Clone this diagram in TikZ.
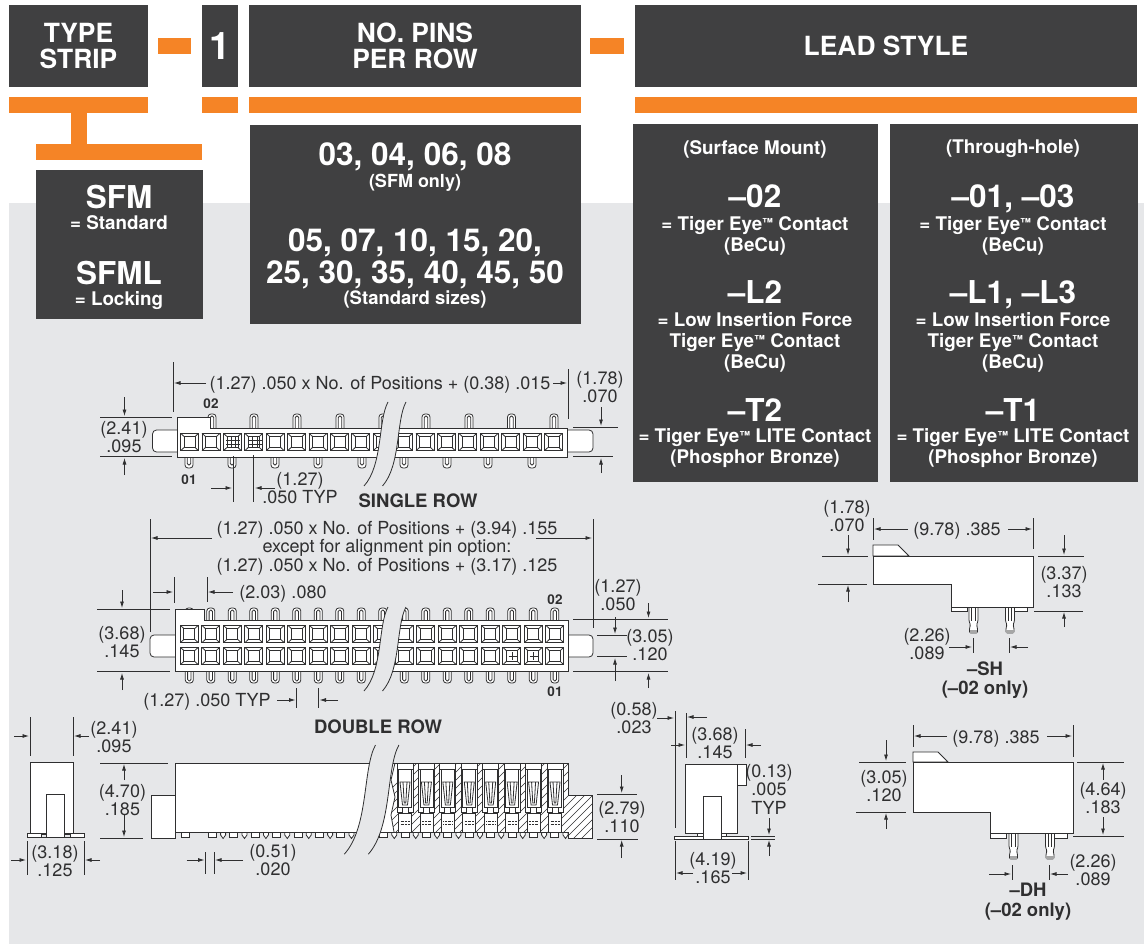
\documentclass[tikz,border=0pt]{standalone}
\usepackage{fontspec}
\setmainfont{TeX Gyre Heros}
\usetikzlibrary{arrows.meta}
\definecolor{boxgray}{HTML}{404041}
\definecolor{tigerorange}{HTML}{F58426}
\definecolor{pagegray}{HTML}{E6E7E9}
\definecolor{linegray}{HTML}{2F2F30}
% small raised trade mark
\newcommand{\tmark}{\raisebox{3.5pt}{\fontsize{11}{11}\selectfont ™}}
% square contact seen from above
\newcommand{\contactpad}[2]{
    \begin{scope}[shift={(#1,#2)}]
        \draw (-9,-8.7) rectangle (9,8.7);
        \draw (-5.5,-5.5) rectangle (5.5,5.5);
        \draw (-9,-8.7) -- (-5.5,-5.5) (9,-8.7) -- (5.5,-5.5) (-9,8.7) -- (-5.5,5.5) (9,8.7) -- (5.5,5.5);
    \end{scope}
}
% x, free end, base, inner free end
\newcommand{\slotpin}[4]{
    \draw[fill=white,rounded corners=3pt] (#1-4,#3) -- (#1-4,#2) -- (#1+4,#2) -- (#1+4,#3);
    \draw[rounded corners=1.5pt] (#1-1.7,#3) -- (#1-1.7,#4) -- (#1+1.7,#4) -- (#1+1.7,#3);
}
% the two curves where the part is cut short
\newcommand{\breakmark}[3]{
    \begin{scope}[shift={(#1,#2)},#3]
        \fill[pagegray] (0,0) .. controls (-10,18) and (-5,63) .. (-24,84) -- (-5.5,84) .. controls (13,63) and (8,18) .. (18,0) -- cycle;
        \draw (0,0) .. controls (-10,18) and (-5,63) .. (-24,84);
        \draw (18,0) .. controls (8,18) and (13,63) .. (-5.5,84);
    \end{scope}
}
% lead of the -SH and -DH parts
\newcommand{\leadpin}[2]{
    \begin{scope}[shift={(#1,#2)}]
        \draw[fill=white,rounded corners=1.2pt] (-4.5,0) -- (-4.5,14) -- (-3,18) -- (-4,21) -- (-4,26) -- (4,26) -- (4,21) -- (3,18) -- (4.5,14) -- (4.5,0);
        \fill[gray!70] (-3.6,23) rectangle (3.6,25.6);
        \draw (-1.8,0) -- (-1.8,14) (1.8,0) -- (1.8,14);
    \end{scope}
}
% contact cavity in the cut-away
\newcommand{\cavity}[1]{
    \begin{scope}[shift={(#1,0)}]
        \draw[fill=white] (-8,763) rectangle (8,812);
        \draw (-8,769) -- (8,769) (-6.5,769) -- (-6.5,807) -- (6.5,807) -- (6.5,769);
        \draw (-5,782) -- (5,782) -- (2.5,805) -- (-2.5,805) -- cycle (-2,782) -- (-.8,803) -- (.8,803) -- (2,782);
        \draw[fill=white] (-3,807) rectangle (3,813);
        \draw[fill=white] (-6.5,813) rectangle (6.5,832);
        \draw[densely dotted,line width=.4pt] (-4.5,821) -- (4.5,821) (-4.5,824) -- (4.5,824);
    \end{scope}
}
\begin{document}
\begin{tikzpicture}[
                        x=1pt,y=-1pt,
                        >={Latex[length=6.5pt,width=4pt]},
                        line width=.8pt,
                        draw=linegray,
                        darkbox/.style={fill=boxgray,inner sep=0pt,outer sep=0pt,text=white,align=center},
                        headtext/.style={font=\bfseries\fontsize{26.4}{27}\selectfont},
                        bigtext/.style={text=white,inner sep=0pt,align=center,font=\bfseries\fontsize{31.5}{32}\selectfont},
                        whitetext/.style={text=white,inner sep=0pt,align=center,font=\bfseries\fontsize{18.8}{21}\selectfont},
                        dimtext/.style={text=linegray,inner sep=0pt,align=center,font=\fontsize{18}{18.5}\selectfont},
                        boldtext/.style={text=linegray,inner sep=0pt,align=center,font=\bfseries\fontsize{18.5}{19.5}\selectfont},
                        pintext/.style={text=linegray,inner sep=0pt,font=\bfseries\fontsize{13.5}{13.5}\selectfont}
                    ]
                    \useasboundingbox (0,0) rectangle (1144,944);
                    \fill[pagegray] (9,203) rectangle (1144,944);

                    % Heading boxes
                    \node [darkbox,headtext,minimum width=139pt,minimum height=82pt] (typeStrip) at (78.5,46) {TYPE\\[-1pt]STRIP};
                    \node [darkbox,font=\bfseries\fontsize{38}{38}\selectfont,minimum width=36pt,minimum height=82pt] (stripOne) at (220,46) {1};
                    \node [darkbox,headtext,minimum width=332pt,minimum height=82pt] (noPins) at (415,46) {NO. PINS\\[-1pt]PER ROW};
                    \node [darkbox,headtext,minimum width=502pt,minimum height=82pt] (leadStyle) at (886,46) {LEAD STYLE};

                    % Orange bars
                    \fill[tigerorange] (158,38) rectangle (191,54);
                    \fill[tigerorange] (590,38) rectangle (624,54);
                    \fill[tigerorange] (9,97) rectangle (148,113);
                    \fill[tigerorange] (202,97) rectangle (238,113);
                    \fill[tigerorange] (249,97) rectangle (581,113);
                    \fill[tigerorange] (635,97) rectangle (1137,113);
                    \fill[tigerorange] (71,113) rectangle (87,144);
                    \fill[tigerorange] (36,144) rectangle (202,160);

                    % Option boxes
                    \fill[boxgray] (36,170) rectangle (203,319);
                    \fill[boxgray] (250,125) rectangle (581,324);
                    \fill[boxgray] (633,124) rectangle (878,482);
                    \fill[boxgray] (890,124) rectangle (1138,482);

                    \node [bigtext] (sfm) at (119,197) {SFM};
                    \node [whitetext] (sfmStandard) at (119,223) {= Standard};
                    \node [bigtext] (sfml) at (119,273) {SFML};
                    \node [whitetext] (sfmLocking) at (119,301) {= Locking};

                    \node [bigtext] (pinsShort) at (415,157) {03, 04, 06, 08};
                    \node [whitetext,font=\bfseries\fontsize{18}{18}\selectfont] (pinsShortNote) at (415,183) {(SFM only)};
                    \node [bigtext] (pinsLong) at (415,259) {05, 07, 10, 15, 20,\\25, 30, 35, 40, 45, 50};
                    \node [whitetext,font=\bfseries\fontsize{18.5}{21}\selectfont] (pinsLongNote) at (415,299) {(Standard sizes)};

                    \node [whitetext] (surfaceHead) at (755,149) {(Surface Mount)};
                    \node [bigtext] (leadTwo) at (755,196) {–02};
                    \node [whitetext] (leadTwoNote) at (755,235.5) {= Tiger Eye\tmark{} Contact\\(BeCu)};
                    \node [bigtext] (leadLTwo) at (755,292) {–L2};
                    \node [whitetext] (leadLTwoNote) at (755,342) {= Low Insertion Force\\Tiger Eye\tmark{} Contact\\(BeCu)};
                    \node [bigtext] (leadTTwo) at (755,410) {–T2};
                    \node [whitetext] (leadTTwoNote) at (755,448.5) {= Tiger Eye\tmark{} LITE Contact\\(Phosphor Bronze)};

                    \node [whitetext] (throughHead) at (1013,149) {(Through-hole)};
                    \node [bigtext] (leadOne) at (1013,199) {–01, –03};
                    \node [whitetext] (leadOneNote) at (1013,235.5) {= Tiger Eye\tmark{} Contact\\(BeCu)};
                    \node [bigtext] (leadLOne) at (1013,295) {–L1, –L3};
                    \node [whitetext] (leadLOneNote) at (1013,342) {= Low Insertion Force\\Tiger Eye\tmark{} Contact\\(BeCu)};
                    \node [bigtext] (leadTOne) at (1013,410) {–T1};
                    \node [whitetext] (leadTOneNote) at (1013,448.5) {= Tiger Eye\tmark{} LITE Contact\\(Phosphor Bronze)};

                    % Single row top view
                    \foreach \x in {212,254,297,340,383,426,469,511.5,554}
                        \slotpin{\x}{414}{430}{416};
                    \foreach \x in {189,232,275,318,362,404,447,488,532}
                        \slotpin{\x}{468}{455}{465};
                    \draw[fill=white,rounded corners=4pt] (177,430) -- (152.5,430) -- (152.5,452) -- (177,452);
                    \draw[fill=white,rounded corners=4pt] (567.5,430) -- (593,430) -- (593,452) -- (567.5,452);
                    \draw[fill=white] (177,417) -- (210,417) -- (210,428) -- (567.5,428) -- (567.5,457) -- (177,457) -- cycle;
                    \foreach \i [evaluate=\i as \x using 189.6+21.4*\i] in {0,...,17}
                        \contactpad{\x}{442};
                    \draw (231,437) -- (231,447) (235.5,437) -- (235.5,447) (226,440) -- (240,440) (226,444) -- (240,444);
                    \draw (252.5,437) -- (252.5,447) (257,437) -- (257,447) (248,440) -- (262,440) (248,444) -- (262,444);
                    \breakmark{388}{402}{}

                    % Single row dimensions
                    \draw (173.5,362) -- (173.5,412) (568,369) -- (568,419);
                    \draw (100,417) -- (172,417) (100,456) -- (172,456);
                    \draw (573,427) -- (618,427) (573,456) -- (613,456);
                    \draw (233,456) -- (233,502) (253.5,455) -- (253.5,502);
                    \draw[->] (206,383) -- (174,383);
                    \draw[->] (553,383) -- (567,383);
                    \draw[->] (601,407) -- (601,426);
                    \draw[->] (601,473) -- (601,458);
                    \draw[->] (124.5,397) -- (124.5,416);
                    \draw[->] (124.5,475) -- (124.5,458);
                    \draw[->] (211,488) -- (232,488);
                    \draw[->] (275,488) -- (255,488);
                    \node [dimtext] (singleLength) at (380,385) {(1.27) .050 x No. of Positions + (0.38) .015};
                    \node [dimtext] (singleTab) at (600,387) {(1.78)\\.070};
                    \node [dimtext] (singleWidth) at (124,437) {(2.41)\\.095};
                    \node [dimtext] (singlePitch) at (300,488) {(1.27)\\.050 TYP};
                    \node [pintext] (singleTwo) at (211,404) {02};
                    \node [pintext] (singleOne) at (189,480) {01};
                    \node [boldtext] (singleRow) at (418,501) {SINGLE ROW};

                    % Double row top view
                    \foreach \i [evaluate=\i as \x using 189.3+21.5*\i] in {0,...,17}{
                        \slotpin{\x}{608}{622}{610};
                        \slotpin{\x}{683}{669}{681};
                    }
                    \draw[fill=white,rounded corners=4pt] (175,635) -- (150,635) -- (150,657) -- (175,657);
                    \draw[fill=white,rounded corners=4pt] (568.5,635) -- (593,635) -- (593,657) -- (568.5,657);
                    \draw[fill=white] (175,609) -- (204,609) -- (204,620) -- (568.5,620) -- (568.5,671) -- (175,671) -- cycle;
                    \foreach \i [evaluate=\i as \x using 189.3+21.5*\i] in {0,...,17}{
                        \contactpad{\x}{634};
                        \contactpad{\x}{656};
                    }
                    \draw (512.5,652) -- (512.5,660) (508.5,656) -- (516.5,656);
                    \draw (533.8,652) -- (533.8,660) (529.8,656) -- (537.8,656);
                    \breakmark{388}{607}{}

                    % Double row dimensions
                    \draw (150,519) -- (150,632) (593,519) -- (593,628);
                    \draw (174,577) -- (174,603) (207,577) -- (207,602);
                    \draw (97,609) -- (170,609) (97,671) -- (170,671);
                    \draw (573,619) -- (668,619) (573,671) -- (668,671);
                    \draw (597,635) -- (627,635) (597,656) -- (627,656);
                    \draw (296.7,688) -- (296.7,708) (318,688) -- (318,708);
                    \draw[->] (212,538) -- (151,538);
                    \draw[->] (536,538) -- (592,538);
                    \draw[->] (153,592) -- (173,592);
                    \draw[->] (233,592) -- (208,592);
                    \draw[->] (122,590) -- (122,608);
                    \draw[->] (122,690) -- (122,673);
                    \draw[->] (648.5,603) -- (648.5,618);
                    \draw[->] (648.5,688) -- (648.5,673);
                    \draw[->] (615,617) -- (615,634);
                    \draw[->] (615,681) -- (615,658);
                    \draw[->] (277,700) -- (295.5,700);
                    \draw[->] (338,700) -- (319.5,700);
                    \node [dimtext] (doubleLength) at (387,548) {(1.27) .050 x No. of Positions + (3.94) .155\\except for alignment pin option:\\(1.27) .050 x No. of Positions + (3.17) .125};
                    \node [dimtext] (doubleInset) at (283,594) {(2.03) .080};
                    \node [dimtext] (doubleWidth) at (122,642) {(3.68)\\.145};
                    \node [dimtext] (doubleEdge) at (618,595) {(1.27)\\.050};
                    \node [dimtext] (doubleTab) at (650,645) {(3.05)\\.120};
                    \node [dimtext] (doublePitch) at (207,702) {(1.27) .050 TYP};
                    \node [pintext] (doubleTwo) at (555,600) {02};
                    \node [pintext] (doubleOne) at (555,692) {01};
                    \node [boldtext] (doubleRow) at (378,727) {DOUBLE ROW};

                    % Side view, end of the strip
                    \draw[fill=white] (30.4,762) rectangle (73,834);
                    \draw[fill=white] (27,833) rectangle (41,837);
                    \draw[fill=white] (70,833) rectangle (84,837);
                    \draw[fill=white] (46.6,794) rectangle (64.4,837);
                    \draw (41,833) -- (46.6,833) (41,837) -- (46.6,837) (64.4,833) -- (70,833) (64.4,837) -- (70,837);
                    \draw (30,717) -- (30,756) (73,717) -- (73,756);
                    \draw (27,841) -- (27,875) (84,841) -- (84,875);
                    \draw[->] (14,736) -- (29,736);
                    \draw[->] (89,736) -- (74,736);
                    \draw[->] (11,860) -- (26,860);
                    \draw[->] (100,860) -- (85,860);
                    \node [dimtext] (sideLeadWidth) at (114,737) {(2.41)\\.095};
                    \node [dimtext] (sideFootWidth) at (55,861) {(3.18)\\.125};

                    % Side view, long
                    \foreach \i [evaluate=\i as \x using 212.4+21.4*\i] in {0,...,16}{
                        \draw[fill=white] (\x-4,832) rectangle (\x+4,837.5);
                    }
                    \draw[fill=white] (181,832) rectangle (189,837.5);
                    \foreach \i [evaluate=\i as \x using 223.1+21.4*\i] in {0,...,16}{
                        \draw[fill=white] (\x-2.5,832) -- (\x-2.5,835) -- (\x,838.5) -- (\x+2.5,835) -- (\x+2.5,832);
                    }
                    \draw[fill=white] (151,795) rectangle (175,838);
                    \draw[fill=white] (175,763) -- (568,763) -- (568,795) -- (592,795) -- (592,838) -- (568,838) -- (568,832) -- (175,832) -- cycle;
                    \begin{scope}
                        \clip (395,763) -- (391,780) -- (395,797) -- (391,815) -- (394,832) -- (568,832) -- (568,838) -- (592,838) -- (592,795) -- (568,795) -- (568,763) -- cycle;
                        \foreach \d in {380,388,...,620}
                            \draw[line width=.5pt] (\d-40,840) -- (\d+40,760);
                    \end{scope}
                    \draw (395,763) -- (391,780) -- (395,797) -- (391,815) -- (394,832);
                    \foreach \i [evaluate=\i as \x using 405+21.43*\i] in {0,...,7}
                        \cavity{\x};
                    \draw (175,763) -- (568,763);
                    \breakmark{375.5}{745}{xscale=1.3,yscale=1.3}

                    % Side view dimensions
                    \draw (100,763) -- (168,763) (100,838) -- (143,838);
                    \draw (205.5,852) -- (205.5,874) (214,852) -- (214,874);
                    \draw (597,794) -- (637,794) (597,839) -- (638,839);
                    \draw[->] (124,780) -- (124,764);
                    \draw[->] (124,815) -- (124,837);
                    \draw[->] (186.5,860) -- (204.5,860);
                    \draw[->] (243,860) -- (215,860);
                    \draw[->] (621.7,775) -- (621.7,793);
                    \draw[->] (621.7,858) -- (621.7,840);
                    \node [dimtext] (sideHeight) at (122.5,800) {(4.70)\\.185};
                    \node [dimtext] (sideLead) at (273,860) {(0.51)\\.020};
                    \node [dimtext] (sideTab) at (622,817) {(2.79)\\.110};

                    % End view
                    \draw[fill=white] (685,764) rectangle (737,833);
                    \draw[fill=white] (737,764) rectangle (746,785);
                    \draw[fill=white] (697,833) rectangle (703,836);
                    \draw[fill=white] (721,833) rectangle (726,836);
                    \draw[fill=white] (674,836) rectangle (748,839);
                    \draw[fill=white] (703,796) rectangle (721,839);
                    \draw (675,711) -- (675,828) (686,713) -- (686,758) (745,729) -- (745,758);
                    \draw (751,836) -- (775,836) (751,839) -- (775,839);
                    \draw (675,841) -- (675,880) (748,841) -- (748,880);
                    \draw[->] (657,718) -- (674,718);
                    \draw[->] (707,717) -- (687,717);
                    \draw[->] (671,745) -- (685,745);
                    \draw[->] (761,745) -- (746,745);
                    \draw[->] (769,818) -- (769,835);
                    \draw[->] (769,856) -- (769,840);
                    \draw[->] (693,873) -- (676,873);
                    \draw[->] (732,873) -- (747,873);
                    \node [dimtext] (endOffset) at (634,718) {(0.58)\\.023};
                    \node [dimtext] (endWidth) at (715,743) {(3.68)\\.145};
                    \node [dimtext] (endGap) at (769,789) {(0.13)\\.005\\TYP};
                    \node [dimtext] (endFoot) at (713,868) {(4.19)\\.165};

                    % -SH lead style
                    \draw[fill=white] (873,556) -- (873,545) -- (898,545) -- (909,556) -- cycle;
                    \draw[fill=white] (951,607) rectangle (967,611);
                    \draw[fill=white] (1013,607) rectangle (1027,611);
                    \leadpin{973.5}{607}
                    \leadpin{1010}{607}
                    \draw[fill=white] (873,556) -- (1033,556) -- (1033,607) -- (951,607) -- (951,584) -- (873,584) -- cycle;
                    \draw (873,518) -- (873,540) (1033,518) -- (1033,549);
                    \draw (822,556) -- (868,556) (818,584) -- (867,584);
                    \draw (1038,556) -- (1084,556) (1034,611) -- (1083,611);
                    \draw (973,638) -- (973,653) (1009,638) -- (1009,653);
                    \draw[->] (908,529) -- (874,529);
                    \draw[->] (1008,529) -- (1032,529);
                    \draw[->] (848,535) -- (848,555);
                    \draw[->] (848,602) -- (848,585);
                    \draw[->] (1064,535) -- (1064,555);
                    \draw[->] (1064,627) -- (1064,612);
                    \draw[->] (949,647) -- (972,647);
                    \draw[->] (1028,647) -- (1010,647);
                    \node [dimtext] (shLength) at (957,531) {(9.78) .385};
                    \node [dimtext] (shBump) at (847,516) {(1.78)\\.070};
                    \node [dimtext] (shHeight) at (1064,582) {(3.37)\\.133};
                    \node [dimtext] (shPitch) at (927,644) {(2.26)\\.089};
                    \node [boldtext] (shLabel) at (985,680) {–SH\\(–02 only)};

                    % -DH lead style
                    \draw[fill=white] (913,762) -- (913,752) -- (938,752) -- (948,762) -- cycle;
                    \draw[fill=white] (990,833) rectangle (1006,838);
                    \draw[fill=white] (1045,833) rectangle (1067,838);
                    \leadpin{1013.5}{833}
                    \leadpin{1050}{833}
                    \draw[fill=white] (913,762) -- (1073,762) -- (1073,833) -- (990,833) -- (990,812) -- (913,812) -- cycle;
                    \draw (913,725) -- (913,747) (1073,725) -- (1073,757);
                    \draw (859,762) -- (906,762) (856,812) -- (906,812);
                    \draw (1077,762) -- (1124,762) (1073,836) -- (1124,836);
                    \draw (1012,865) -- (1012,880) (1049,865) -- (1049,880);
                    \draw[->] (947,736) -- (914,736);
                    \draw[->] (1047,736) -- (1072,736);
                    \draw[->] (886,740) -- (886,761);
                    \draw[->] (886,829) -- (886,813);
                    \draw[->] (1103,780) -- (1103,763);
                    \draw[->] (1103,817) -- (1103,835);
                    \draw[->] (989,874) -- (1011,874);
                    \draw[->] (1068,874) -- (1050,874);
                    \node [dimtext] (dhLength) at (996,739) {(9.78) .385};
                    \node [dimtext] (dhBump) at (884,786) {(3.05)\\.120};
                    \node [dimtext] (dhHeight) at (1103,798) {(4.64)\\.183};
                    \node [dimtext] (dhPitch) at (1093,870) {(2.26)\\.089};
                    \node [boldtext] (dhLabel) at (1028,902) {–DH\\(–02 only)};
                \end{tikzpicture}
\end{document}
